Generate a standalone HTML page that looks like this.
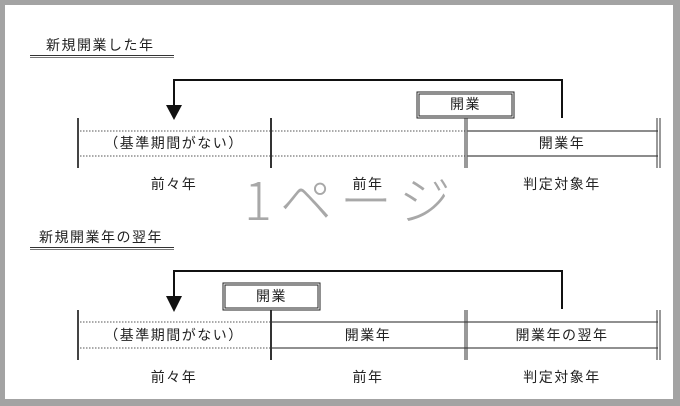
<!DOCTYPE html>
<html><head><meta charset="utf-8"><style>
html,body{margin:0;padding:0;background:#fff;}
svg{display:block;}
text{font-family:"Liberation Sans","Noto Sans CJK JP",sans-serif;font-size:14px;fill:#222;letter-spacing:1.5px;}
</style></head><body>
<svg width="680" height="406" viewBox="0 0 680 406" xmlns="http://www.w3.org/2000/svg">
<rect x="0" y="0" width="680" height="406" fill="#a3a3a3"/>
<rect x="5" y="5" width="668" height="394" fill="#fff"/>
<!-- watermark -->
<text x="244" y="220" style="font-size:52px;fill:#a8a8a8;font-weight:300;letter-spacing:8px;font-family:'Noto Sans CJK JP',sans-serif">1ページ</text>

<!-- top section -->
<text x="46" y="50">新規開業した年</text>
<line x1="30" y1="55.5" x2="174" y2="55.5" stroke="#333" stroke-width="1"/>
<line x1="30" y1="57.5" x2="174" y2="57.5" stroke="#777" stroke-width="1"/>
<polyline points="174,106 174,80 562,80 562,118" fill="none" stroke="#111" stroke-width="2"/>
<polygon points="166,105 182,105 174,120" fill="#111"/>
<line x1="78" y1="118" x2="78" y2="168" stroke="#444" stroke-width="2"/>
<line x1="80" y1="131" x2="465" y2="131" stroke="#555" stroke-dasharray="1.5,1.5"/>
<line x1="80" y1="156" x2="465" y2="156" stroke="#555" stroke-dasharray="1.5,1.5"/>
<line x1="271" y1="118" x2="271" y2="168" stroke="#333" stroke-width="2"/>
<line x1="465" y1="118" x2="465" y2="168" stroke="#333"/>
<line x1="467" y1="118" x2="467" y2="168" stroke="#333"/>
<line x1="467" y1="131" x2="658" y2="131" stroke="#666" stroke-width="1.5"/>
<line x1="467" y1="156" x2="658" y2="156" stroke="#666" stroke-width="1.5"/>
<line x1="657" y1="118" x2="657" y2="168" stroke="#333"/>
<line x1="660" y1="118" x2="660" y2="168" stroke="#333"/>
<rect x="417" y="92" width="97" height="26" fill="#fff" stroke="#222" stroke-width="1"/>
<rect x="419" y="94" width="93" height="22" fill="#fff" stroke="#222" stroke-width="1"/>
<text x="465.5" y="109" text-anchor="middle">開業</text>
<text x="174" y="148" text-anchor="middle">（基準期間がない）</text>
<text x="562" y="148" text-anchor="middle">開業年</text>
<text x="174" y="189" text-anchor="middle">前々年</text>
<text x="368" y="189" text-anchor="middle">前年</text>
<text x="562" y="189" text-anchor="middle">判定対象年</text>

<!-- bottom section -->
<text x="39" y="242">新規開業年の翌年</text>
<line x1="30" y1="247.5" x2="174" y2="247.5" stroke="#333"/>
<line x1="30" y1="249.5" x2="174" y2="249.5" stroke="#777"/>
<polyline points="174,297 174,271 562,271 562,309" fill="none" stroke="#111" stroke-width="2"/>
<polygon points="166,296 182,296 174,312" fill="#111"/>
<line x1="78" y1="310" x2="78" y2="360" stroke="#444" stroke-width="2"/>
<line x1="80" y1="322" x2="270" y2="322" stroke="#555" stroke-dasharray="1.5,1.5"/>
<line x1="80" y1="348" x2="270" y2="348" stroke="#555" stroke-dasharray="1.5,1.5"/>
<line x1="271" y1="310" x2="271" y2="360" stroke="#333" stroke-width="2"/>
<line x1="272" y1="322" x2="658" y2="322" stroke="#222"/>
<line x1="272" y1="348" x2="658" y2="348" stroke="#222"/>
<line x1="465" y1="310" x2="465" y2="360" stroke="#333"/>
<line x1="467" y1="310" x2="467" y2="360" stroke="#333"/>
<line x1="657" y1="310" x2="657" y2="360" stroke="#333"/>
<line x1="660" y1="310" x2="660" y2="360" stroke="#333"/>
<rect x="223" y="283" width="97" height="27" fill="#fff" stroke="#222"/>
<rect x="225" y="285" width="93" height="23" fill="#fff" stroke="#222"/>
<text x="271.5" y="301" text-anchor="middle">開業</text>
<text x="174" y="340" text-anchor="middle">（基準期間がない）</text>
<text x="368" y="340" text-anchor="middle">開業年</text>
<text x="562" y="340" text-anchor="middle">開業年の翌年</text>
<text x="174" y="382" text-anchor="middle">前々年</text>
<text x="368" y="382" text-anchor="middle">前年</text>
<text x="562" y="382" text-anchor="middle">判定対象年</text>
</svg>
</body></html>
